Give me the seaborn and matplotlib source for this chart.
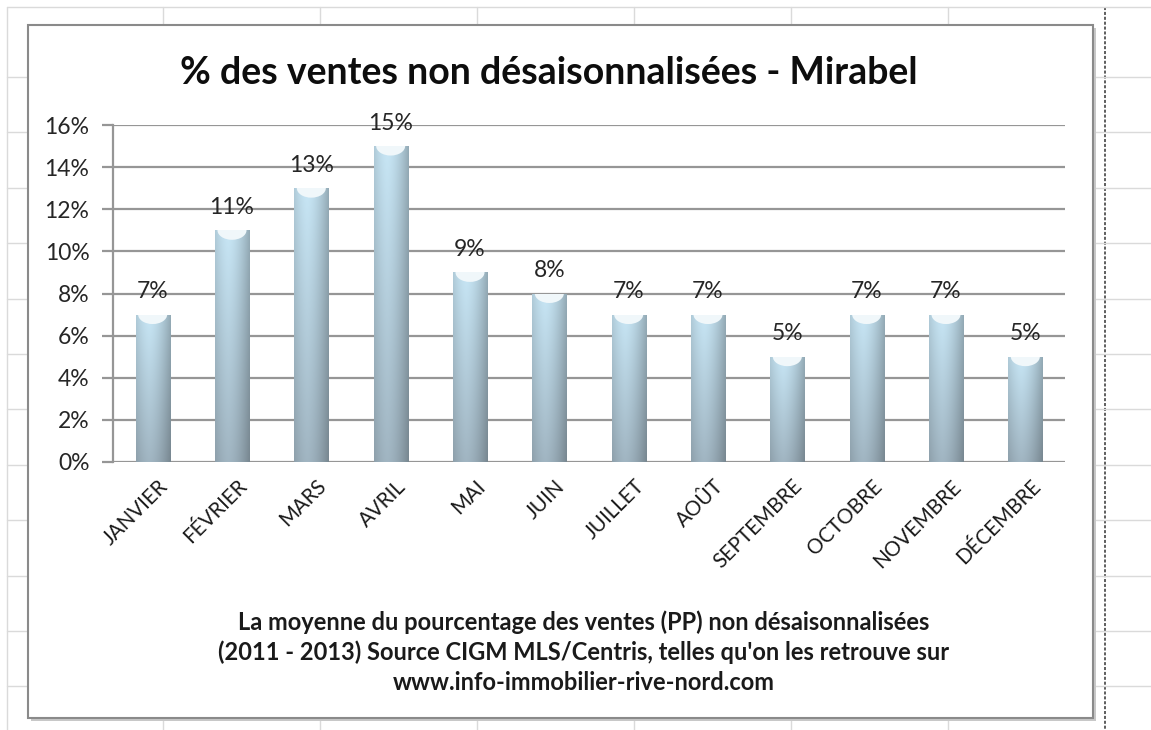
import numpy as np
import pandas as pd
import matplotlib
matplotlib.use("Agg")
import matplotlib.pyplot as plt
import seaborn as sns
from matplotlib.patches import Rectangle, Ellipse
from matplotlib.lines import Line2D
import matplotlib.transforms as mtransforms

months = ["JANVIER", "FÉVRIER", "MARS", "AVRIL", "MAI", "JUIN",
          "JUILLET", "AOÛT", "SEPTEMBRE", "OCTOBRE", "NOVEMBRE", "DÉCEMBRE"]
values = [7, 11, 13, 15, 9, 8, 7, 7, 5, 7, 7, 5]
y_ticks = [0, 2, 4, 6, 8, 10, 12, 14, 16]
title = "% des ventes non désaisonnalisées - Mirabel"
note_lines = ["La moyenne du pourcentage des ventes (PP) non désaisonnalisées",
              "(2011 - 2013) Source CIGM MLS/Centris, telles qu'on les retrouve sur",
              "www.info-immobilier-rive-nord.com"]

df = pd.DataFrame({"mois": months, "pct": values})

sns.set_theme(style="white")
plt.rcParams["font.family"] = ["Lato", "DejaVu Sans"]

W, H = 1151, 730
fig = plt.figure(figsize=(W / 100, H / 100), dpi=100)
fig.patch.set_facecolor("white")

def fx(px):
    return px / W

def fy(py):
    return 1 - py / H

# spreadsheet background grid
grid_col = "#dadada"
for x in [7, 163, 320, 477, 634, 791, 948]:
    fig.add_artist(Line2D([fx(x), fx(x)], [fy(7), fy(730)], color=grid_col, lw=1, zorder=0))
fig.add_artist(Line2D([fx(1105), fx(1105)], [fy(7), fy(730)], color="#333333", lw=1.1,
                      ls=(0, (2, 1.2)), zorder=0))
fig.add_artist(Line2D([fx(7), fx(1151)], [fy(7), fy(7)], color=grid_col, lw=1, zorder=0))
for y in np.arange(77, 730, 55.4):
    fig.add_artist(Line2D([fx(7), fx(1151)], [fy(y), fy(y)], color=grid_col, lw=1, zorder=0))

# chart frame with shadow
fig.add_artist(Rectangle((fx(31), fy(721)), fx(1093) - fx(28), fy(25) - fy(718),
                         transform=fig.transFigure, facecolor="#c8c8c8", edgecolor="none", zorder=1))
fig.add_artist(Rectangle((fx(28), fy(718)), fx(1093) - fx(28), fy(25) - fy(718),
                         transform=fig.transFigure, facecolor="white", edgecolor="#8a8a8a",
                         lw=1.5, zorder=2))

ax = fig.add_axes([fx(113), fy(462), fx(1065) - fx(113), fy(125) - fy(462)])
ax.set_zorder(3)
ax.patch.set_alpha(0)

sns.barplot(data=df, x="mois", y="pct", ax=ax, color="#b9d3df", width=0.43,
            edgecolor="none", saturation=1)

# cylinder-like gradient inside each bar
nx, ny = 120, 100
xs = np.linspace(0, 1, nx)
ys = np.linspace(0, 1, ny)[:, None]  # 0 = top, 1 = bottom
prof = 1 - 0.26 * np.abs((xs - 0.38) / 0.62) ** 1.6
top_c = np.array([0.78, 0.90, 0.96])
bot_c = np.array([0.63, 0.71, 0.76])
base = top_c[None, None, :] * (1 - ys[..., None]) + bot_c[None, None, :] * ys[..., None]
img = np.clip(base * prof[None, :, None], 0, 1)

for patch, v in zip(ax.patches, values):
    x0 = patch.get_x()
    w = patch.get_width()
    h = patch.get_height()
    im = ax.imshow(img, extent=(x0, x0 + w, 0, h), aspect="auto", zorder=2,
                   interpolation="bilinear")
    im.set_clip_path(patch)
    cap = Ellipse((x0 + w / 2, h), w * 0.85, 0.9, facecolor="#f0f7fa", edgecolor="none",
                  zorder=3)
    ax.add_patch(cap)
    cap.set_clip_path(patch)

ax.set_xlim(-0.5, len(months) - 0.5)
ax.set_ylim(0, 16)
ax.set_yticks(y_ticks)
ax.set_yticklabels([f"{t}%" for t in y_ticks])

for t in y_ticks:
    ax.axhline(t, color="#969696", lw=1.6, zorder=1)

for i, v in enumerate(values):
    ax.annotate(f"{v}%", (i, v), xytext=(0, 9), textcoords="offset points",
                ha="center", va="bottom", fontsize=16.5, color="#262626", zorder=5)

ax.set_xlabel("")
ax.set_ylabel("")
for s in ["top", "right", "bottom"]:
    ax.spines[s].set_visible(False)
ax.spines["left"].set_color("#969696")
ax.spines["left"].set_linewidth(1.6)
ax.tick_params(axis="y", which="both", left=True, length=8, width=1.6, color="#969696",
               labelsize=16.5, labelcolor="#262626", pad=9)
ax.tick_params(axis="x", which="both", bottom=False, labelsize=14.8, labelcolor="#1a1a1a", pad=2)

offset = mtransforms.ScaledTranslation(5 / 100, -3 / 100, fig.dpi_scale_trans)
for lab in ax.get_xticklabels():
    lab.set_rotation(45)
    lab.set_ha("right")
    lab.set_va("top")
    lab.set_rotation_mode("anchor")
    lab.set_transform(lab.get_transform() + offset)

fig.text(fx(549), fy(73), title, ha="center", va="center", fontsize=27,
         fontweight="bold", color="#0d0d0d", zorder=5)

for k, line in enumerate(note_lines):
    fig.text(fx(584), fy(622 + 30 * k), line, ha="center", va="center", fontsize=17,
             fontweight="bold", color="#1a1a1a", zorder=5)

fig.savefig("out.png", dpi=100, facecolor="white")
